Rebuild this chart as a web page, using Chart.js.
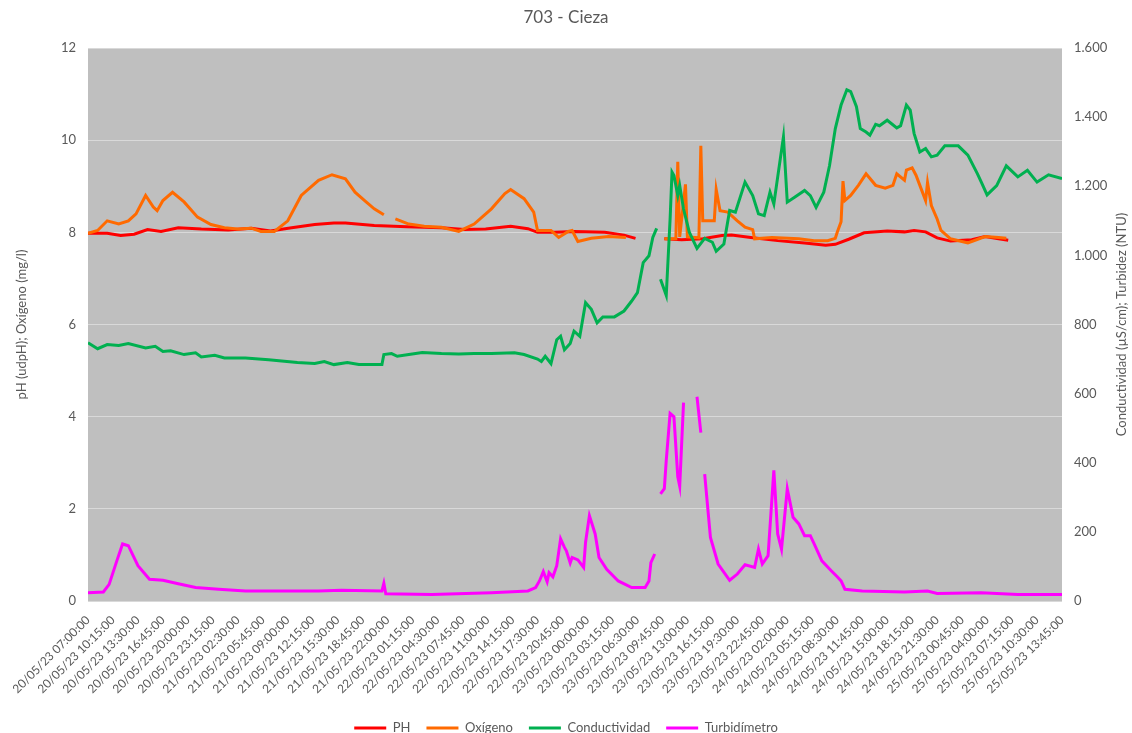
<!DOCTYPE html>
<html lang="es">
<head>
<meta charset="utf-8">
<title>703 - Cieza</title>
<script src="https://cdn.jsdelivr.net/npm/chart.js@4.4.1/dist/chart.umd.min.js"></script>
<style>
  html, body { margin: 0; padding: 0; background: #fff; }
  #wrap { width: 1132px; height: 733px; position: relative; }
</style>
</head>
<body>
<div id="wrap"><canvas id="chart"></canvas></div>
<script>
// x = reading number (one reading every 15 min, 0 = 20/05/23 07:00:00)
const tickStep = 13;
const tickLabels = [
  "20/05/23 07:00:00", "20/05/23 10:15:00", "20/05/23 13:30:00", "20/05/23 16:45:00",
  "20/05/23 20:00:00", "20/05/23 23:15:00", "21/05/23 02:30:00", "21/05/23 05:45:00",
  "21/05/23 09:00:00", "21/05/23 12:15:00", "21/05/23 15:30:00", "21/05/23 18:45:00",
  "21/05/23 22:00:00", "22/05/23 01:15:00", "22/05/23 04:30:00", "22/05/23 07:45:00",
  "22/05/23 11:00:00", "22/05/23 14:15:00", "22/05/23 17:30:00", "22/05/23 20:45:00",
  "23/05/23 00:00:00", "23/05/23 03:15:00", "23/05/23 06:30:00", "23/05/23 09:45:00",
  "23/05/23 13:00:00", "23/05/23 16:15:00", "23/05/23 19:30:00", "23/05/23 22:45:00",
  "24/05/23 02:00:00", "24/05/23 05:15:00", "24/05/23 08:30:00", "24/05/23 11:45:00",
  "24/05/23 15:00:00", "24/05/23 18:15:00", "24/05/23 21:30:00", "25/05/23 00:45:00",
  "25/05/23 04:00:00", "25/05/23 07:15:00", "25/05/23 10:30:00", "25/05/23 13:45:00"
];

const seriesNames = ["PH", "Oxígeno", "Conductividad", "Turbidímetro"];

// [reading, value]; null = no data
const ph = [
  [0,7.98],[10,7.98],[17,7.93],[24,7.96],[31,8.06],[38,8.02],[47,8.10],[59,8.07],[73,8.05],
  [85,8.09],[95,8.03],[106,8.10],[118,8.17],[128,8.20],[134,8.20],[149,8.15],[166,8.12],
  [184,8.10],[196,8.06],[207,8.07],[220,8.13],[229,8.08],[234,8.00],[243,8.00],[253,8.02],
  [259,8.01],[269,8.00],[279,7.94],[285,7.87],[292,null],[300,7.86],[309,7.84],[320,7.86],
  [330,7.93],[335,7.94],[345,7.89],[359,7.82],[373,7.77],[384,7.72],[389,7.74],[396,7.85],
  [404,7.99],[416,8.03],[425,8.01],[430,8.04],[436,8.01],[442,7.88],[449,7.81],[460,7.84],
  [467,7.91],[474,7.86],[479,7.83]
];

const oxigeno = [
  [0,7.98],[5,8.04],[10,8.25],[16,8.18],[21,8.25],[25,8.40],[30,8.80],[34,8.55],[36,8.47],
  [39,8.69],[44,8.87],[50,8.66],[57,8.33],[64,8.17],[71,8.10],[78,8.07],[85,8.09],[90,8.02],
  [97,8.02],[104,8.25],[111,8.80],[120,9.13],[127,9.25],[134,9.16],[139,8.87],[144,8.69],
  [149,8.51],[154,8.38],[157,null],[160,8.29],[167,8.18],[175,8.13],[184,8.11],[193,8.02],
  [201,8.18],[210,8.51],[217,8.84],[220,8.93],[227,8.73],[232,8.44],[234,8.04],[241,8.04],
  [245,7.89],[250,8.02],[252,8.04],[255,7.80],[262,7.87],[271,7.91],[280,7.89],[290,null],
  [300,7.86],[306,7.86],[307,9.53],[308,7.90],[311,9.04],[312,7.90],[318,7.88],[319,9.88],
  [320,8.25],[326,8.25],[327,8.93],[329,8.47],[333,8.44],[338,8.25],[342,8.11],[346,8.06],
  [347,7.86],[356,7.89],[370,7.86],[378,7.82],[385,7.82],[389,7.87],[390,8.00],[392,8.23],
  [393,9.11],[394,8.69],[397,8.80],[401,9.02],[405,9.27],[410,9.02],[415,8.96],[419,9.02],
  [421,9.27],[425,9.13],[426,9.35],[429,9.40],[431,9.24],[434,8.91],[436,8.69],[437,9.08],
  [439,8.58],[442,8.29],[444,8.04],[449,7.86],[458,7.77],[467,7.91],[474,7.89],[478,7.87]
];

const conductividad = [
  [0,747],[5,730],[10,742],[16,739],[21,745],[30,732],[35,737],[39,722],[43,724],[50,713],
  [56,718],[59,706],[66,711],[71,703],[82,703],[94,698],[109,690],[118,687],[123,693],
  [128,684],[135,690],[141,684],[153,684],[154,713],[158,716],[161,708],[167,713],[174,719],
  [184,716],[193,715],[201,716],[210,716],[222,718],[227,713],[234,700],[236,693],[238,708],
  [241,687],[244,756],[246,766],[248,727],[251,745],[253,781],[256,766],[259,863],[262,844],
  [265,805],[268,822],[274,822],[279,839],[283,868],[286,892],[289,979],[292,999],[294,1052],
  [296,1078],[297,null],[298,931],[301,884],[303,1105],[304,1241],[305,1231],[307,1173],
  [308,1202],[310,1134],[313,1067],[317,1020],[321,1049],[325,1038],[327,1012],[331,1033],
  [334,1130],[337,1125],[342,1212],[346,1173],[349,1120],[352,1115],[355,1183],[357,1149],
  [362,1343],[364,1154],[368,1169],[373,1188],[376,1173],[379,1139],[383,1183],[386,1260],
  [389,1367],[392,1435],[395,1479],[397,1474],[400,1430],[402,1367],[405,1357],[407,1348],
  [410,1379],[412,1375],[416,1391],[421,1369],[423,1375],[426,1435],[428,1420],[430,1353],
  [433,1299],[436,1309],[439,1285],[442,1290],[446,1317],[453,1317],[458,1290],[463,1236],
  [465,1212],[468,1175],[473,1202],[478,1259],[484,1227],[489,1246],[494,1212],[500,1233],
  [507,1222]
];

const turbidez = [
  [0,24],[8,26],[11,48],[15,116],[18,165],[21,160],[26,102],[32,63],[39,60],[47,50],[56,39],
  [68,34],[82,29],[106,29],[120,29],[132,31],[153,29],[154,51],[155,21],[179,19],[210,24],
  [229,29],[233,39],[235,58],[237,85],[239,56],[240,82],[242,70],[244,102],[246,180],
  [248,155],[249,145],[251,110],[252,126],[255,119],[258,97],[259,170],[261,247],[264,194],
  [266,126],[270,92],[276,58],[283,39],[290,39],[292,58],[293,111],[295,136],[296,null],
  [298,310],[300,325],[301,407],[303,543],[305,533],[307,359],[308,332],[310,574],[313,null],
  [317,591],[319,487],[320,null],[321,367],[324,184],[328,107],[334,60],[338,78],[342,105],
  [347,97],[349,150],[351,107],[354,131],[357,378],[359,194],[361,150],[364,325],[367,242],
  [370,223],[373,189],[376,189],[378,165],[382,116],[387,87],[390,70],[392,58],[394,34],
  [403,29],[425,26],[437,29],[442,22],[465,24],[484,19],[507,19]
];

const colors = ["#ff0000", "#ff6a00", "#00b050", "#ff00ff"];

Chart.defaults.font.family = "Lato, 'Liberation Sans', sans-serif";
Chart.defaults.color = "#595959";

// grey plot area like the original
const plotBg = {
  id: "plotBg",
  beforeDraw(chart) {
    const { ctx, chartArea: a } = chart;
    ctx.save();
    ctx.fillStyle = "#bfbfbf";
    ctx.fillRect(a.left, a.top, a.right - a.left, a.bottom - a.top);
    ctx.restore();
  }
};

// right axis title reads bottom-to-top in the original
const rightTitle = {
  id: "rightTitle",
  afterDraw(chart) {
    const { ctx, chartArea: a } = chart;
    ctx.save();
    ctx.translate(1122, (a.top + a.bottom) / 2);
    ctx.rotate(-Math.PI / 2);
    ctx.font = "13px Lato";
    ctx.fillStyle = "#595959";
    ctx.textAlign = "center";
    ctx.textBaseline = "middle";
    ctx.fillText("Conductividad (µS/cm); Turbidez (NTU)", 0, 0);
    ctx.restore();
  }
};

// move legend row down to the bottom edge
const legendShift = {
  id: "legendShift",
  afterLayout(chart) {
    const lg = chart.legend;
    const dy = 725 - (lg.top + lg.bottom) / 2;
    lg.top += dy;
    lg.bottom += dy;
  }
};

const datasets = [ph, oxigeno, conductividad, turbidez].map((d, i) => ({
  label: seriesNames[i],
  data: d,
  borderColor: colors[i],
  backgroundColor: colors[i],
  borderWidth: 3,
  pointRadius: 0,
  tension: 0,
  yAxisID: i < 2 ? "y" : "y1",
  order: 4 - i
}));

new Chart(document.getElementById("chart"), {
  type: "line",
  data: { datasets },
  plugins: [plotBg, rightTitle, legendShift],
  options: {
    responsive: true,
    maintainAspectRatio: false,
    animation: false,
    devicePixelRatio: 1,
    plugins: {
      title: {
        display: true,
        text: "703 - Cieza",
        color: "#595959",
        font: { size: 17, weight: "normal" },
        padding: { top: 7, bottom: 20.6 }
      },
      legend: {
        position: "bottom",
        labels: {
          usePointStyle: true,
          pointStyle: "line",
          pointStyleWidth: 32,
          padding: 16,
          font: { size: 13 },
          sort: (a, b) => a.datasetIndex - b.datasetIndex
        }
      },
      tooltip: { enabled: false }
    },
    scales: {
      x: {
        type: "linear",
        min: 0,
        max: 507,
        grid: { display: false },
        border: { display: false },
        ticks: {
          stepSize: tickStep,
          autoSkip: false,
          maxRotation: 45,
          minRotation: 45,
          padding: 4,
          font: { size: 12 },
          callback: v => tickLabels[Math.round(v / tickStep)] || ""
        },
        afterFit: s => { s.height = 93; }
      },
      y: {
        position: "left",
        min: 0,
        max: 12,
        grid: { color: "#d9d9d9", drawTicks: false },
        border: { display: false },
        ticks: { stepSize: 2, padding: 12, font: { size: 13 } },
        title: {
          display: true,
          text: "pH (udpH); Oxígeno (mg/l)",
          font: { size: 13 },
          padding: { top: 14, bottom: 0 }
        },
        afterFit: s => { s.width = 88; }
      },
      y1: {
        position: "right",
        min: 0,
        max: 1600,
        grid: { display: false, drawTicks: false },
        border: { display: false },
        ticks: {
          stepSize: 200,
          padding: 12,
          font: { size: 13 },
          callback: v => v >= 1000 ? String(v).replace(/(\d)(\d{3})$/, "$1.$2") : String(v)
        },
        afterFit: s => { s.width = 70; }
      }
    }
  }
});
</script>
</body>
</html>
